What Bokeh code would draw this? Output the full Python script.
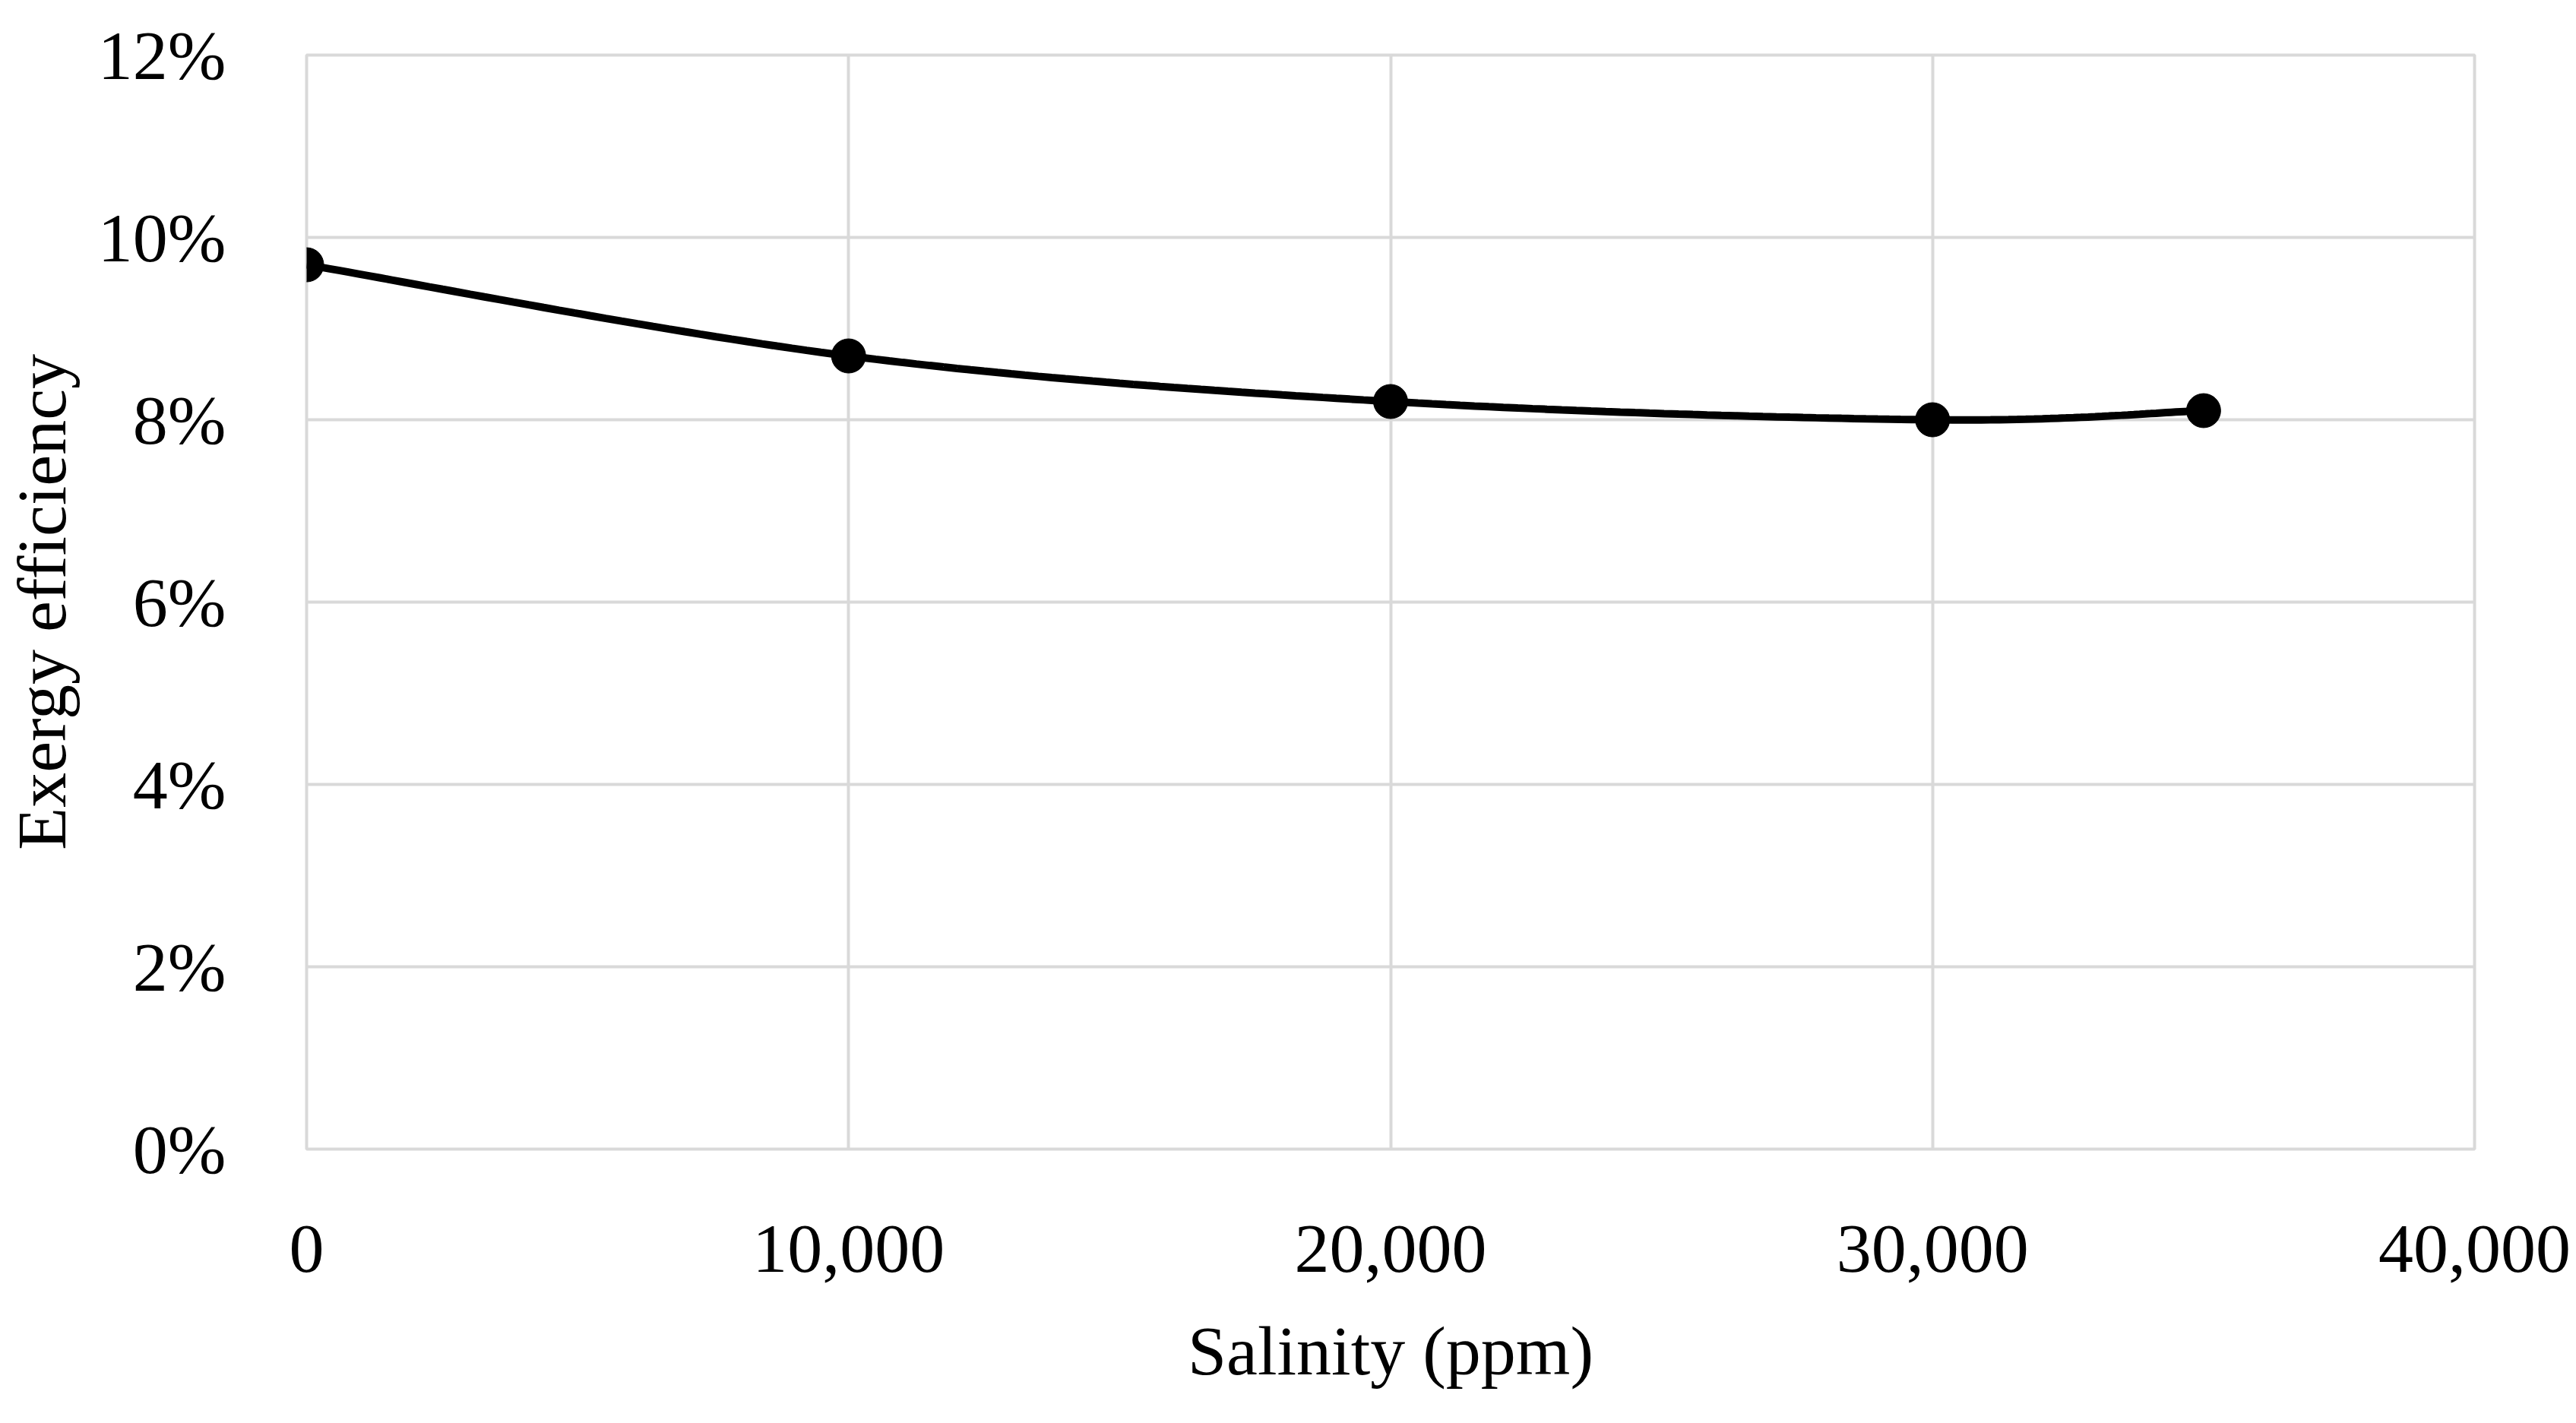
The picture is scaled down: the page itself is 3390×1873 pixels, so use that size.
import numpy as np
from bokeh.plotting import figure
from bokeh.models import NumeralTickFormatter, FixedTicker, Range1d
from bokeh.embed import file_html
from bokeh.resources import INLINE

salinity = [0, 10000, 20000, 30000, 35000]
efficiency = [0.097, 0.087, 0.082, 0.080, 0.081]
x_ticks = [0, 10000, 20000, 30000, 40000]
y_ticks = [0, 0.02, 0.04, 0.06, 0.08, 0.10, 0.12]

def catmull(xs, ys, n=40):
    P = np.column_stack([xs, ys]).astype(float)
    P = np.vstack([P[0], P, P[-1]])
    out = []
    for i in range(1, len(P) - 2):
        p0, p1, p2, p3 = P[i-1], P[i], P[i+1], P[i+2]
        for t in np.linspace(0, 1, n, endpoint=False):
            t2, t3 = t*t, t*t*t
            out.append(0.5*((2*p1) + (-p0+p2)*t + (2*p0-5*p1+4*p2-p3)*t2 + (-p0+3*p1-3*p2+p3)*t3))
    out.append(P[-2])
    out = np.array(out)
    return out[:, 0], out[:, 1]

p = figure(frame_width=2853, frame_height=1440, min_border_left=375, min_border_top=72,
           min_border_right=146, min_border_bottom=345, output_backend="svg",
           toolbar_location=None, x_range=Range1d(0, 40000), y_range=Range1d(0, 0.12))
p.outline_line_color = "#d9d9d9"
p.outline_line_width = 4
for ax in (p.xaxis, p.yaxis):
    ax.axis_line_color = None
    ax.major_tick_line_color = None
    ax.minor_tick_line_color = None
    ax.major_label_text_font = "Liberation Serif"
    ax.major_label_text_font_size = "92px"
    ax.major_label_text_color = "black"
    ax.axis_label_text_font = "Liberation Serif"
    ax.axis_label_text_font_size = "92px"
    ax.axis_label_text_font_style = "normal"
    ax.axis_label_text_color = "black"
p.xaxis.ticker = FixedTicker(ticks=x_ticks)
p.yaxis.ticker = FixedTicker(ticks=y_ticks)
p.xaxis.formatter = NumeralTickFormatter(format="0,0")
p.yaxis.formatter = NumeralTickFormatter(format="0%")
p.xaxis.major_label_standoff = 95
p.yaxis.major_label_standoff = 100
p.xaxis.axis_label = "Salinity (ppm)"
p.yaxis.axis_label = "Exergy efficiency"
p.xaxis.axis_label_standoff = 50
p.yaxis.axis_label_standoff = 20
p.grid.grid_line_color = "#d9d9d9"
p.grid.grid_line_width = 4
p.xgrid.ticker = FixedTicker(ticks=x_ticks)
p.ygrid.ticker = FixedTicker(ticks=y_ticks)

cx, cy = catmull(salinity, efficiency)
p.line(cx, cy, line_color="black", line_width=10)
p.scatter(salinity, efficiency, size=45, color="black")

open("out.html", "w").write(file_html(p, INLINE))
